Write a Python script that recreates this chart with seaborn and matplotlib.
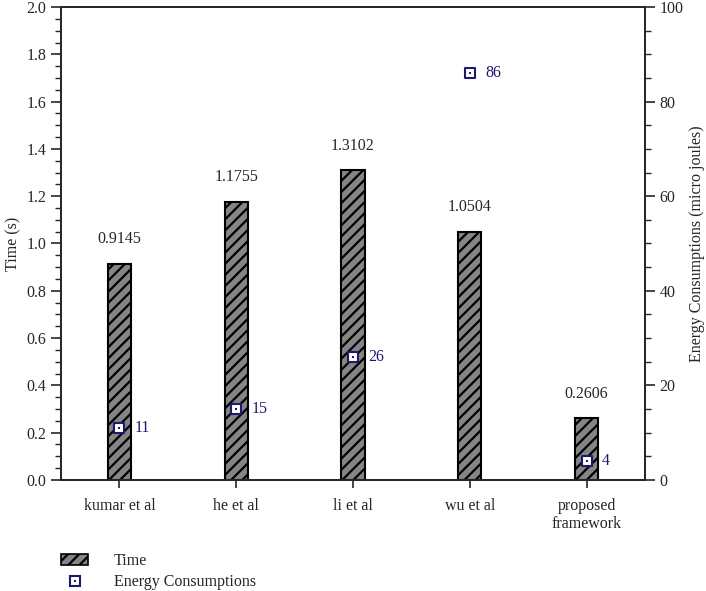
import matplotlib
matplotlib.use("Agg")
import matplotlib.pyplot as plt
import seaborn as sns
import pandas as pd
from matplotlib.patches import Patch
from matplotlib.lines import Line2D
from matplotlib.legend_handler import HandlerTuple
from matplotlib.ticker import MultipleLocator

categories = ["kumar et al", "he et al", "li et al", "wu et al", "proposed\nframework"]
time_values = [0.9145, 1.1755, 1.3102, 1.0504, 0.2606]
time_labels = ["0.9145", "1.1755", "1.3102", "1.0504", "0.2606"]
energy_values = [11, 15, 26, 86, 4]
energy_labels = ["11", "15", "26", "86", "4"]

sns.set_style("ticks")
plt.rcParams['font.family'] = ['Liberation Serif', 'DejaVu Serif']
plt.rcParams['hatch.linewidth'] = 1.6
plt.rcParams['hatch.color'] = 'black'

df = pd.DataFrame({"cat": categories, "time": time_values, "energy": energy_values})
navy = "#1c1a6b"
fill = "#858585"
fs = 11.5

fig = plt.figure(figsize=(7.06, 5.91), dpi=100)
ax = fig.add_axes([0.0864, 0.188, 0.8272, 0.8])

sns.barplot(data=df, x="cat", y="time", ax=ax, color=fill, width=0.2,
            edgecolor="black", linewidth=1.5, saturation=1)
for p in ax.patches:
    p.set_hatch("///")
    p.set_edgecolor("black")

for i, (v, lab) in enumerate(zip(time_values, time_labels)):
    ax.text(i, v + 0.07, lab, ha="center", va="bottom", fontsize=fs)

ax.set_xlim(-0.5, 4.5)
ax.set_ylim(0, 2.0)
ax.yaxis.set_major_locator(MultipleLocator(0.2))
ax.yaxis.set_minor_locator(MultipleLocator(0.05))
ax.set_ylabel("Time (s)", fontsize=fs)
ax.set_xlabel("")
ax.tick_params(axis="both", labelsize=fs, width=1.2, direction="out")
ax.tick_params(axis="y", which="major", length=7)
ax.tick_params(axis="y", which="minor", length=4, width=1.0)
ax.tick_params(axis="x", length=6, pad=7)
for s in ax.spines.values():
    s.set_linewidth(1.3)
ax.spines["top"].set_visible(True)
ax.spines["right"].set_visible(True)

ax2 = ax.twinx()
sns.scatterplot(data=df, x="cat", y="energy", ax=ax2, marker="s", s=45,
                facecolor="white", edgecolor=navy, linewidth=1.5, zorder=5, legend=False)
sns.scatterplot(data=df, x="cat", y="energy", ax=ax2, marker="s", s=3,
                color=navy, linewidth=0, zorder=6, legend=False)
for i, (v, lab) in enumerate(zip(energy_values, energy_labels)):
    ax2.text(i + 0.13, v, lab, ha="left", va="center", fontsize=fs, color=navy)

ax2.set_xlim(-0.5, 4.5)
ax2.set_ylim(0, 100)
ax2.yaxis.set_major_locator(MultipleLocator(20))
ax2.yaxis.set_minor_locator(MultipleLocator(5))
ax2.set_ylabel("Energy Consumptions (micro joules)", fontsize=fs)
ax2.tick_params(axis="y", labelsize=fs, width=1.2, direction="out")
ax2.tick_params(axis="y", which="major", length=7)
ax2.tick_params(axis="y", which="minor", length=4, width=1.0)
for s in ax2.spines.values():
    s.set_linewidth(1.3)

h_time = Patch(facecolor=fill, edgecolor="black", hatch="///", linewidth=1.2)
h_sq = Line2D([0], [0], marker="s", linestyle="none", markerfacecolor="white",
              markeredgecolor=navy, markersize=7, markeredgewidth=1.5)
h_dot = Line2D([0], [0], marker="s", linestyle="none", markerfacecolor=navy,
               markeredgewidth=0, markersize=1.8)
leg = fig.legend([h_time, (h_sq, h_dot)], ["Time", "Energy Consumptions"], loc="upper left",
                 bbox_to_anchor=(0.066, 0.088), frameon=False, fontsize=fs,
                 handlelength=1.7, handletextpad=1.6, labelspacing=0.3,
                 handler_map={tuple: HandlerTuple(ndivide=1, pad=0)})

fig.savefig("out.png", dpi=100)
